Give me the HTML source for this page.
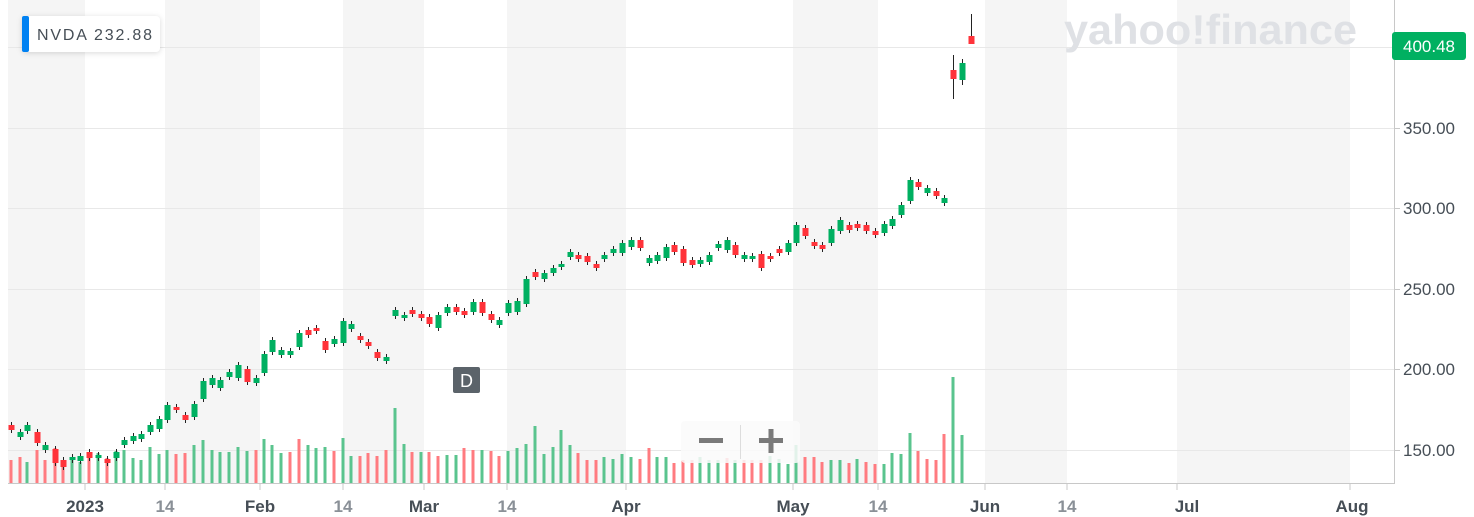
<!DOCTYPE html>
<html><head><meta charset="utf-8"><style>
html,body{margin:0;padding:0;background:#fff;width:1474px;height:517px;overflow:hidden;font-family:"Liberation Sans",sans-serif}
</style></head><body>
<svg id="c" width="1474" height="517" xmlns="http://www.w3.org/2000/svg" style="position:absolute;left:0;top:0">
<g fill="#f5f5f5">
<rect x="8" y="0" width="77" height="483"/>
<rect x="165" y="0" width="95" height="483"/>
<rect x="343" y="0" width="81" height="483"/>
<rect x="507" y="0" width="119" height="483"/>
<rect x="793" y="0" width="85" height="483"/>
<rect x="985" y="0" width="82" height="483"/>
<rect x="1177" y="0" width="173" height="483"/>
</g>
<g stroke="#e8e8e8" stroke-width="1">
<line x1="8" x2="1394" y1="47.5" y2="47.5"/>
<line x1="8" x2="1394" y1="128.5" y2="128.5"/>
<line x1="8" x2="1394" y1="208.5" y2="208.5"/>
<line x1="8" x2="1394" y1="289.5" y2="289.5"/>
<line x1="8" x2="1394" y1="369.5" y2="369.5"/>
<line x1="8" x2="1394" y1="450.5" y2="450.5"/>
</g>
<text x="1064" y="44" font-size="42" font-weight="bold" fill="#dfe1e5" font-family="Liberation Sans,sans-serif" textLength="293" lengthAdjust="spacingAndGlyphs">yahoo!finance</text>
<g id="vol"></g>
<g id="cand"></g>
<line x1="8" x2="1394" y1="483.5" y2="483.5" stroke="#c8c8c8"/>
<line x1="1394.5" x2="1394.5" y1="0" y2="484" stroke="#c8c8c8"/>
<g stroke="#c8c8c8">
<line x1="85" x2="85" y1="484" y2="490"/><line x1="165" x2="165" y1="484" y2="490"/><line x1="260" x2="260" y1="484" y2="490"/><line x1="343" x2="343" y1="484" y2="490"/><line x1="424" x2="424" y1="484" y2="490"/><line x1="507" x2="507" y1="484" y2="490"/><line x1="626" x2="626" y1="484" y2="490"/><line x1="793" x2="793" y1="484" y2="490"/><line x1="878" x2="878" y1="484" y2="490"/><line x1="985" x2="985" y1="484" y2="490"/><line x1="1067" x2="1067" y1="484" y2="490"/><line x1="1177" x2="1177" y1="484" y2="490"/><line x1="1350" x2="1350" y1="484" y2="490"/>
<line x1="1395" x2="1400" y1="128.5" y2="128.5"/><line x1="1395" x2="1400" y1="208.5" y2="208.5"/><line x1="1395" x2="1400" y1="289.5" y2="289.5"/><line x1="1395" x2="1400" y1="369.5" y2="369.5"/><line x1="1395" x2="1400" y1="450.5" y2="450.5"/>
</g>
<g font-size="17" text-anchor="middle" font-weight="bold">
<text x="85" y="512" fill="#464e56">2023</text>
<text x="165" y="512" fill="#8a9097">14</text>
<text x="260" y="512" fill="#464e56">Feb</text>
<text x="343" y="512" fill="#8a9097">14</text>
<text x="424" y="512" fill="#464e56">Mar</text>
<text x="507" y="512" fill="#8a9097">14</text>
<text x="626" y="512" fill="#464e56">Apr</text>
<text x="793" y="512" fill="#464e56">May</text>
<text x="878" y="512" fill="#8a9097">14</text>
<text x="985" y="512" fill="#464e56">Jun</text>
<text x="1067" y="512" fill="#8a9097">14</text>
<text x="1187" y="512" fill="#464e56">Jul</text>
<text x="1352" y="512" fill="#464e56">Aug</text>
</g>
<g font-size="17" fill="#464e56">
<text x="1403" y="134">350.00</text>
<text x="1403" y="214">300.00</text>
<text x="1403" y="295">250.00</text>
<text x="1403" y="375">200.00</text>
<text x="1403" y="456">150.00</text>
</g>
<rect x="1392" y="32" width="74" height="28" rx="3" fill="#00b061"/>
<text x="1429" y="52" font-size="17" fill="#fff" text-anchor="middle">400.48</text>
<rect x="22" y="16" width="138" height="36" rx="4" fill="#fff" style="filter:drop-shadow(0 1px 3px rgba(0,0,0,.15))"/>
<rect x="22" y="16" width="7" height="36" rx="2" fill="#0081f2"/>
<text x="37" y="40" font-size="16" fill="#464e56" textLength="115" lengthAdjust="spacing">NVDA  232.88</text>
<rect x="453" y="367" width="27" height="26" rx="2" fill="#5b636a"/>
<text x="466.5" y="387" font-size="18" fill="#fff" text-anchor="middle">D</text>
<rect x="681" y="421" width="119" height="42" rx="4" fill="rgba(250,250,250,0.85)"/>
<line x1="740.5" x2="740.5" y1="425" y2="459" stroke="#ddd"/>
<rect x="699" y="438" width="24" height="5" fill="#7a7a7a"/>
<rect x="759" y="438" width="24" height="5" fill="#7a7a7a"/>
<rect x="768.5" y="429" width="5" height="24" fill="#7a7a7a"/>
</svg>
<script>
var d=[[11,'r',425,430,460],[20,'g',432,437,457],[27,'g',425,431,462],[37,'r',432,443,450],[45,'g',445,450,460],[55,'r',449,463,448],[63,'r',460,467,460],[72,'g',457,460,458],[80,'g',456,461,462],[89,'r',452,458,453],[98,'g',455,458,453],[107,'r',459,463,458],[116,'g',452,458,451],[124,'g',440,445,450],[133,'g',436,441,458],[141,'g',434,439,460],[150,'g',425,432,447],[159,'g',419,429,454],[167,'g',405,420,450],[176,'r',407,410,454],[185,'r',415,420,453],[194,'g',404,417,445],[203,'g',381,399,440],[212,'g',378,385,450],[220,'g',380,388,452],[229,'g',372,377,452],[238,'g',365,378,447],[247,'r',369,382,451],[256,'g',378,383,450],[264,'g',354,373,439],[272,'g',340,352,445],[281,'g',350,355,453],[290,'g',351,355,452],[299,'g',333,347,439],[308,'r',330,335,445],[316,'r',328,331,448],[325,'r',341,350,447],[334,'g',339,344,451],[343,'g',321,343,438],[351,'g',324,329,456],[360,'r',336,340,456],[368,'r',342,346,453],[377,'r',352,358,456],[386,'g',357,361,450],
[395,'g',310,316,408],[404,'g',315,318,444],[412,'r',310,314,452],[421,'r',314,318,452],[429,'r',317,324,452],[438,'g',315,328,456],[447,'g',307,313,455],[456,'r',307,312,455],[464,'r',311,315,448],[473,'g',302,312,450],[482,'r',302,313,450],[491,'r',314,320,451],[499,'g',320,325,456],[508,'g',303,313,451],[517,'g',301,312,448],[526,'g',279,304,444],[535,'r',272,277,426],[544,'g',273,279,454],[553,'g',268,273,447],[561,'g',264,267,430],[570,'g',252,257,445],[578,'r',255,259,453],[587,'r',256,262,460],[596,'r',264,268,460],[604,'g',255,259,457],[613,'g',249,253,459],[622,'g',243,253,454],[631,'g',240,247,457],[640,'r',240,248,459],[649,'g',258,263,448],[657,'g',255,261,457],[666,'g',247,258,457],[674,'r',245,252,463],[683,'r',249,263,460],[692,'r',260,265,460],[700,'g',260,264,457],[709,'g',255,262,460],[718,'g',244,248,460],[727,'g',240,250,458],[735,'r',245,255,460],[744,'g',255,259,460],[752,'g',256,259,460],[761,'r',254,268,460],[770,'r',256,259,456],[779,'r',249,253,459],[788,'g',243,252,464],[796,'g',225,243,445],[805,'r',228,236,457],[814,'r',242,246,457],[822,'r',245,249,462],[831,'g',229,243,460],[840,'g',220,231,460],[849,'r',225,230,463],[857,'r',224,228,459],[866,'r',225,231,462],[875,'r',231,235,464],[884,'g',224,233,464],[892,'g',219,226,453],[901,'g',205,215,454],[910,'g',180,201,433],[918,'r',182,187,451],[927,'g',188,193,459],[936,'r',191,196,460],[944,'g',198,203,434],[953,'r',70,79,377,55,99],[962,'g',63,80,435,59,85],[971,'r',36,44,483,14,44]];
var vcol="rrgrrrrggrgrggggggg rrgggggggrggg rrggg rgg rrrrg grgrrggrr grrg ggggggg rrrggggrr ggrrrgggrgrrrgggg rrrggrgrrggggrrrrgg".replace(/ /g,'');
var vc={g:'#5ac48e',r:'#ff7b80'},cc={g:'#00b061',r:'#ff333a'};
var vs='',cs='';
d.forEach(function(a,i){var x=a[0];
var c=vcol[i]||a[1];
if(a[4]<483)vs+='<rect x="'+(x-1.5)+'" y="'+a[4]+'" width="3" height="'+(483-a[4])+'" fill="'+vc[c]+'"/>';
var hi=a.length>5?a[5]:a[2]-3,lo=a.length>5?a[6]:a[3]+3;
cs+='<line x1="'+(x+0.5)+'" x2="'+(x+0.5)+'" y1="'+hi+'" y2="'+lo+'" stroke="#222" stroke-width="1"/>';
cs+='<rect x="'+(x-2.5)+'" y="'+a[2]+'" width="6" height="'+Math.max(3,a[3]-a[2])+'" fill="'+cc[a[1]]+'"/>';});
document.getElementById('vol').innerHTML=vs;document.getElementById('cand').innerHTML=cs;
</script>
</body></html>
